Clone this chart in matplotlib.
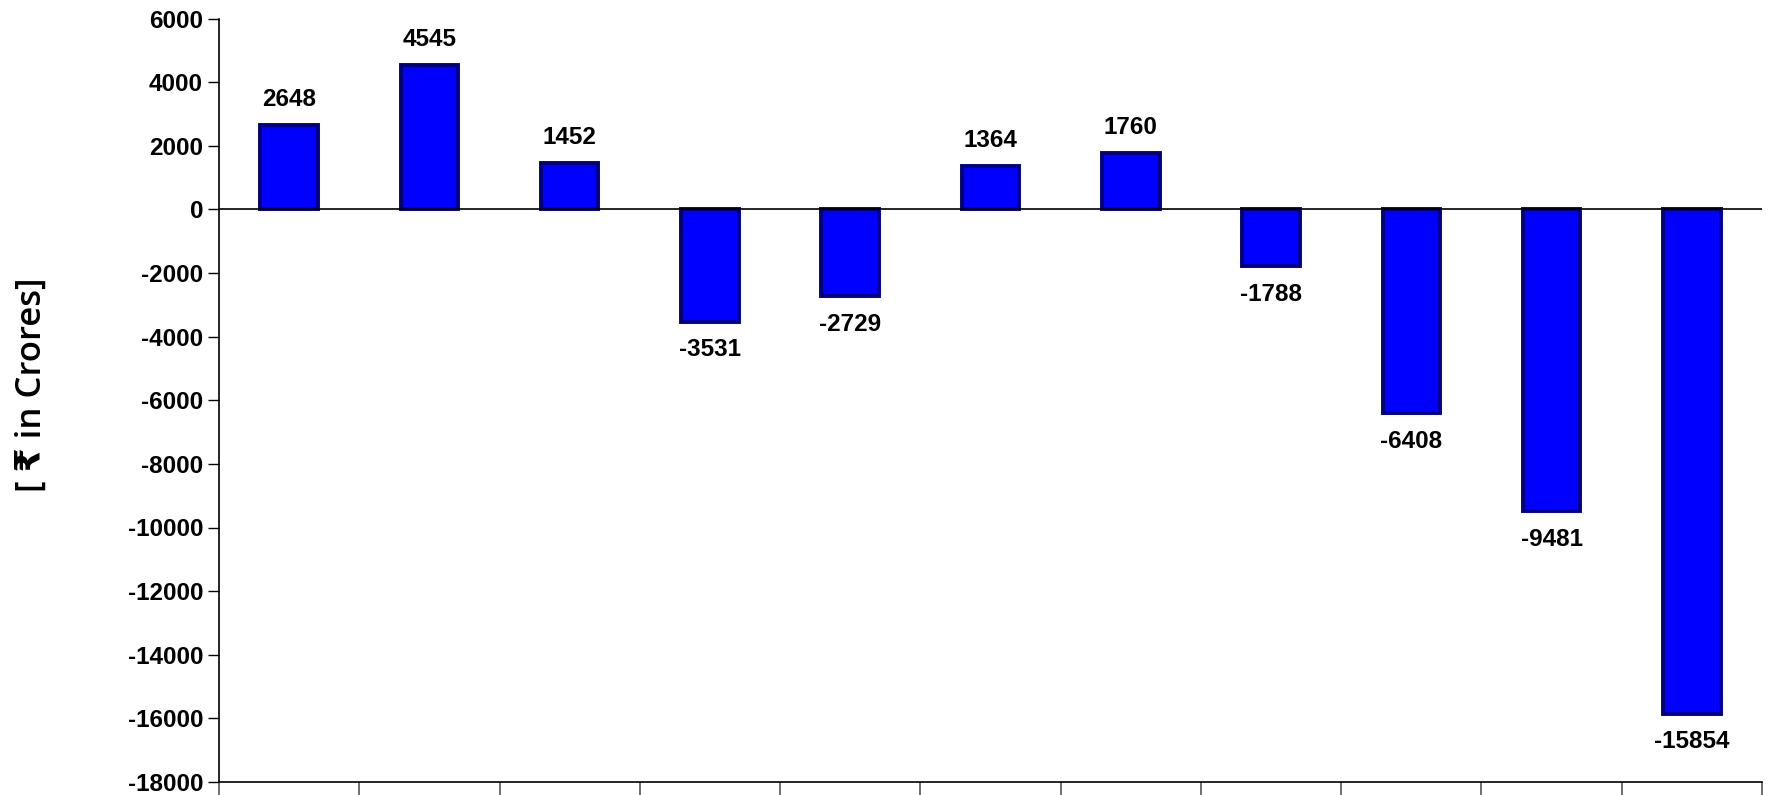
import numpy as np
import matplotlib
matplotlib.use('Agg')
import matplotlib.pyplot as plt

# values per bar, left to right
values = [2648, 4545, 1452, -3531, -2729, 1364, 1760, -1788, -6408, -9481, -15854]
yticks = list(range(-18000, 6001, 2000))

fig = plt.figure(figsize=(17.71, 7.95), dpi=100)
ax = fig.add_axes([219 / 1771, 13 / 795, (1762 - 219) / 1771, (782 - 18.5) / 795])

x = np.arange(len(values))
ax.bar(x, values, width=0.41, color='#0000ff', edgecolor='#000080', linewidth=2.8, zorder=3)

for xi, v in zip(x, values):
    if v >= 0:
        ax.annotate(str(v), (xi, v), xytext=(0, 10), textcoords='offset points',
                    ha='center', va='bottom', fontsize=17.5, fontweight='bold',
                    family='Liberation Sans')
    else:
        ax.annotate(str(v), (xi, v), xytext=(0, -12), textcoords='offset points',
                    ha='center', va='top', fontsize=17.5, fontweight='bold',
                    family='Liberation Sans')

ax.axhline(0, color='black', linewidth=1.2, zorder=4)
ax.set_xlim(-0.5, len(values) - 0.5)
ax.set_ylim(-18000, 6000)
ax.set_yticks(yticks)
ax.set_yticklabels([str(t) for t in yticks], fontsize=17.5, fontweight='bold', family='Liberation Sans')
ax.tick_params(axis='y', length=8, width=1, direction='out')

# category boundary ticks on the bottom axis, no labels
ax.set_xticks(np.arange(len(values) + 1) - 0.5)
ax.set_xticklabels([])
ax.tick_params(axis='x', length=15, width=1.2, direction='out', color='#555555')

ax.spines['top'].set_visible(False)
ax.spines['right'].set_visible(False)
ax.spines['left'].set_linewidth(1.2)
ax.spines['bottom'].set_linewidth(1.2)

fig.text(32 / 1771, 0.516, '[ \u20b9 in Crores]', rotation=90, ha='center', va='center',
         fontsize=25, fontweight='semibold', family=['Open Sans', 'DejaVu Sans'])

fig.savefig('out.png', dpi=100)
